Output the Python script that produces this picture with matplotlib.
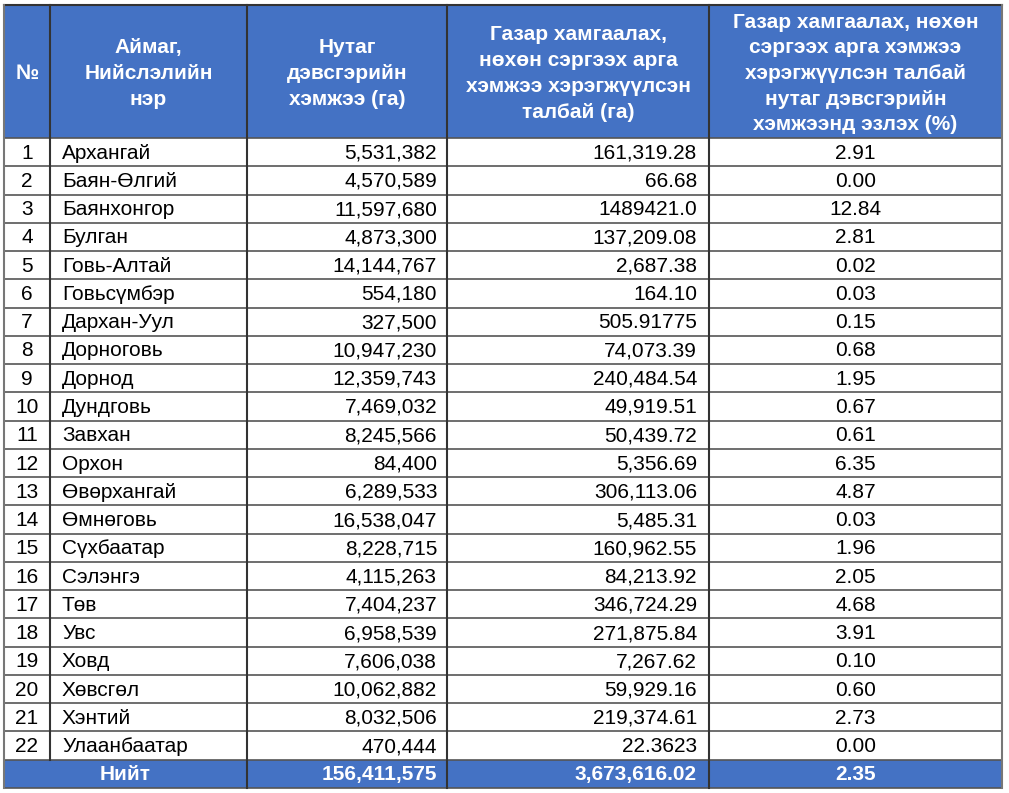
import matplotlib.pyplot as plt
from matplotlib.patches import Rectangle

plt.rcParams['font.family'] = ['Liberation Sans', 'DejaVu Sans']

headers = ['№', 'Аймаг,\nНийслэлийн\nнэр', 'Нутаг\nдэвсгэрийн\nхэмжээ (га)',
           'Газар хамгаалах,\nнөхөн сэргээх арга\nхэмжээ хэрэгжүүлсэн\nталбай (га)',
           'Газар хамгаалах, нөхөн\nсэргээх арга хэмжээ\nхэрэгжүүлсэн талбай\nнутаг дэвсгэрийн\nхэмжээнд эзлэх (%)']

names = ['Архангай', 'Баян-Өлгий', 'Баянхонгор', 'Булган', 'Говь-Алтай', 'Говьсүмбэр',
         'Дархан-Уул', 'Дорноговь', 'Дорнод', 'Дундговь', 'Завхан', 'Орхон',
         'Өвөрхангай', 'Өмнөговь', 'Сүхбаатар', 'Сэлэнгэ', 'Төв', 'Увс', 'Ховд',
         'Хөвсгөл', 'Хэнтий', 'Улаанбаатар']
territory = ['5,531,382', '4,570,589', '11,597,680', '4,873,300', '14,144,767', '554,180',
             '327,500', '10,947,230', '12,359,743', '7,469,032', '8,245,566', '84,400',
             '6,289,533', '16,538,047', '8,228,715', '4,115,263', '7,404,237', '6,958,539',
             '7,606,038', '10,062,882', '8,032,506', '470,444']
protected = ['161,319.28', '66.68', '1489421.0', '137,209.08', '2,687.38', '164.10',
             '505.91775', '74,073.39', '240,484.54', '49,919.51', '50,439.72', '5,356.69',
             '306,113.06', '5,485.31', '160,962.55', '84,213.92', '346,724.29', '271,875.84',
             '7,267.62', '59,929.16', '219,374.61', '22.3623']
share = ['2.91', '0.00', '12.84', '2.81', '0.02', '0.03', '0.15', '0.68', '1.95', '0.67',
         '0.61', '6.35', '4.87', '0.03', '1.96', '2.05', '4.68', '3.91', '0.10', '0.60',
         '2.73', '0.00']
total = ['Нийт', '156,411,575', '3,673,616.02', '2.35']

blue = '#4472C4'
W, H = 1009, 793
xs = [4, 50, 247, 447, 709, 1002]
top, head_bot, bottom = 5, 138, 788
n = len(names) + 1
rh = (bottom - head_bot) / n
fs = 15

fig = plt.figure(figsize=(W / 100, H / 100), dpi=100)
ax = fig.add_axes([0, 0, 1, 1])
ax.set_xlim(0, W)
ax.set_ylim(H, 0)
ax.axis('off')

# header and total row background
ax.add_patch(Rectangle((xs[0], top), xs[-1] - xs[0], head_bot - top, color=blue, lw=0))
ax.add_patch(Rectangle((xs[0], bottom - rh), xs[-1] - xs[0], rh, color=blue, lw=0))

for i, h in enumerate(headers):
    ax.text((xs[i] + xs[i + 1]) / 2, (top + head_bot) / 2 + 2, h, ha='center', va='center',
            color='white', fontsize=fs, fontweight='bold', linespacing=1.45)

for r in range(len(names)):
    yc = head_bot + rh * (r + 0.5) + 1
    ax.text((xs[0] + xs[1]) / 2, yc, str(r + 1), ha='center', va='center', fontsize=fs)
    ax.text(xs[1] + 12, yc, names[r], ha='left', va='center', fontsize=fs)
    ax.text(xs[3] - 10, yc, territory[r], ha='right', va='center', fontsize=fs)
    ax.text(xs[4] - 12, yc, protected[r], ha='right', va='center', fontsize=fs)
    ax.text((xs[4] + xs[5]) / 2, yc, share[r], ha='center', va='center', fontsize=fs)

yc = bottom - rh / 2 + 1
kw = dict(va='center', fontsize=fs, fontweight='bold', color='white')
ax.text((xs[0] + xs[2]) / 2, yc, total[0], ha='center', **kw)
ax.text(xs[3] - 10, yc, total[1], ha='right', **kw)
ax.text(xs[4] - 12, yc, total[2], ha='right', **kw)
ax.text((xs[4] + xs[5]) / 2, yc, total[3], ha='center', **kw)

# grid lines
for r in range(n + 1):
    y = head_bot + rh * r
    ax.plot([xs[0], xs[-1]], [y, y], color='#555555', lw=1.2)
ax.plot([xs[0], xs[-1]], [top, top], color='#333333', lw=1.5)
for i, x in enumerate(xs):
    y1 = bottom - rh if i == 1 else bottom
    c = '#777777' if i in (0, 5) else '#333333'
    ax.plot([x, x], [top, y1], color=c, lw=1.5)

fig.savefig('out.png', dpi=100)
